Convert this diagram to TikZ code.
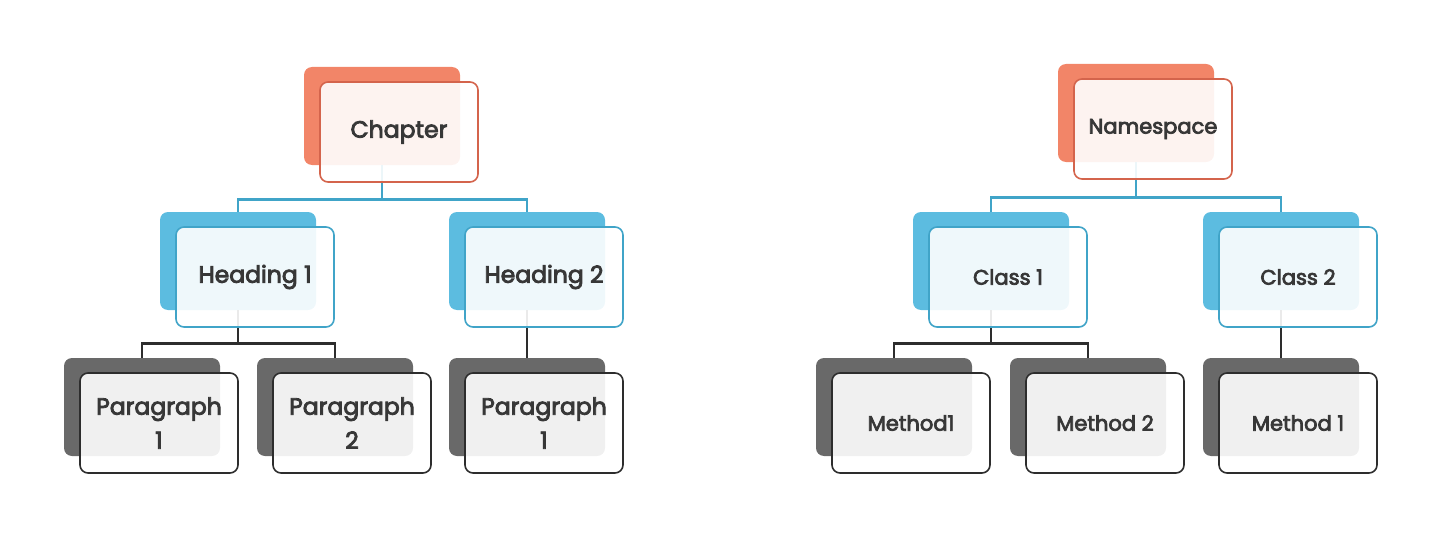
\documentclass[tikz,border=0pt]{standalone}
\usepackage{fontspec}
\setmainfont{Poppins}[FakeBold=3.5]
\usetikzlibrary{positioning}
\definecolor{coralback}{RGB}{242, 133, 104}
\definecolor{coralline}{RGB}{212, 100, 76}
\definecolor{skyback}{RGB}{92, 188, 224}
\definecolor{skyline}{RGB}{64, 164, 200}
\definecolor{greyback}{RGB}{105, 105, 105}
\definecolor{greyline}{RGB}{45, 45, 45}
\definecolor{labeltext}{RGB}{55, 55, 55}

\begin{document}
\begin{tikzpicture}[x=1pt, y=-1pt,
  back/.style={rounded corners=8pt, minimum width=156pt, minimum height=98pt, inner sep=0pt},
  front/.style={draw, line width=1.6pt, rounded corners=8pt, minimum width=158pt, minimum height=100pt,
    inner sep=0pt, align=center, fill=white, fill opacity=0.9, text opacity=1,
    text=labeltext, xshift=17pt, yshift=-16pt},
  bigtxt/.style={font=\fontsize{23.5}{34}\selectfont},
  smalltxt/.style={font=\fontsize{21}{30}\selectfont},
  tealwire/.style={draw=skyline, line width=2.8pt},
  darkwire/.style={draw=greyline, line width=2.8pt}
]
  \useasboundingbox (0,0) rectangle (1440,559);

  % left tree: back layers
  \node[back, fill=coralback] (chap) at (382,116) {};
  \node[back, fill=skyback] (hone) at (238,261) {};
  \node[back, fill=skyback] (htwo) at (527,261) {};
  \node[back, fill=greyback] (pone) at (142,407) {};
  \node[back, fill=greyback] (ptwo) at (335,407) {};
  \node[back, fill=greyback] (pthree) at (527,407) {};

  % right tree: back layers
  \node[back, fill=coralback] (nspace) at (1136,113) {};
  \node[back, fill=skyback] (cone) at (991,261) {};
  \node[back, fill=skyback] (ctwo) at (1281,261) {};
  \node[back, fill=greyback] (mone) at (894,407) {};
  \node[back, fill=greyback] (mtwo) at (1088,407) {};
  \node[back, fill=greyback] (mthree) at (1281,407) {};

  % connectors
  \draw[tealwire] (chap.south) -- ++(0,34) -| (hone.north);
  \draw[tealwire] (chap.south) ++(0,34) -| (htwo.north);
  \draw[darkwire] (hone.south) -- ++(0,33) -| (pone.north);
  \draw[darkwire] (hone.south) ++(0,33) -| (ptwo.north);
  \draw[darkwire] (htwo.south) -- (pthree.north);

  \draw[tealwire] (nspace.south) -- ++(0,35) -| (cone.north);
  \draw[tealwire] (nspace.south) ++(0,35) -| (ctwo.north);
  \draw[darkwire] (cone.south) -- ++(0,33) -| (mone.north);
  \draw[darkwire] (cone.south) ++(0,33) -| (mtwo.north);
  \draw[darkwire] (ctwo.south) -- (mthree.north);

  % front layers
  \node[front, draw=coralline, bigtxt] (chapf) at (chap) {Chapter};
  \node[front, draw=skyline, bigtxt] (honef) at (hone) {Heading 1};
  \node[front, draw=skyline, bigtxt] (htwof) at (htwo) {Heading 2};
  \node[front, draw=greyline, bigtxt] (ponef) at (pone) {Paragraph\\1};
  \node[front, draw=greyline, bigtxt] (ptwof) at (ptwo) {Paragraph\\2};
  \node[front, draw=greyline, bigtxt] (pthreef) at (pthree) {Paragraph\\1};

  \node[front, draw=coralline, smalltxt] (nspacef) at (nspace) {Namespace};
  \node[front, draw=skyline, smalltxt] (conef) at (cone) {Class 1};
  \node[front, draw=skyline, smalltxt] (ctwof) at (ctwo) {Class 2};
  \node[front, draw=greyline, smalltxt] (monef) at (mone) {Method1};
  \node[front, draw=greyline, smalltxt] (mtwof) at (mtwo) {Method 2};
  \node[front, draw=greyline, smalltxt] (mthreef) at (mthree) {Method 1};
\end{tikzpicture}
\end{document}
